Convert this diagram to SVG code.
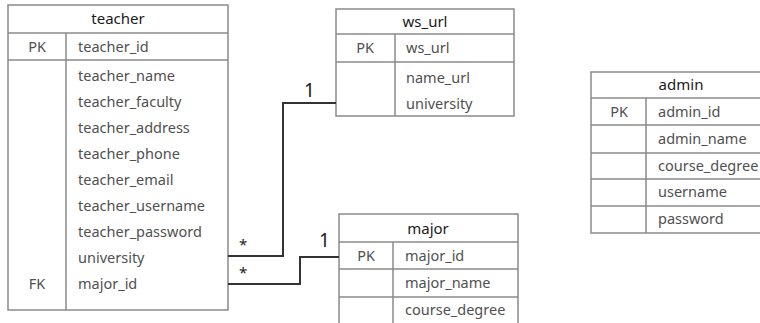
<svg xmlns="http://www.w3.org/2000/svg" width="760" height="323" viewBox="0 0 760 323">
  <style>
    .box { fill: #ffffff; stroke: #8a8a8a; stroke-width: 1.5; }
    .sep { stroke: #8a8a8a; stroke-width: 1.5; fill: none; }
    .title { font-family: "Noto Sans", "Open Sans", sans-serif; font-size: 15px; fill: #1a1a1a; text-anchor: middle; }
    .field { font-family: "Noto Sans", "Open Sans", sans-serif; font-size: 14.5px; fill: #505050; }
    .key { font-family: "Noto Sans", "Open Sans", sans-serif; font-size: 14.5px; fill: #505050; text-anchor: middle; }
    .link { stroke: #333333; stroke-width: 2; fill: none; }
    .mult { font-family: "Noto Sans", "DejaVu Sans", sans-serif; font-size: 19px; fill: #1a1a1a; }
    .star { font-family: "Noto Sans", "DejaVu Sans", sans-serif; font-size: 15px; fill: #1a1a1a; }
  </style>

  <!-- teacher table -->
  <g id="teacher">
    <rect class="box" x="8" y="5" width="220" height="305"/>
    <line class="sep" x1="8" y1="33" x2="228" y2="33"/>
    <line class="sep" x1="8" y1="60" x2="228" y2="60"/>
    <line class="sep" x1="66" y1="33" x2="66" y2="310"/>
    <text class="title" x="118" y="24">teacher</text>
    <text class="key" x="37" y="52">PK</text>
    <text class="field" x="78" y="52">teacher_id</text>
    <text class="field" x="78" y="81">teacher_name</text>
    <text class="field" x="78" y="107">teacher_faculty</text>
    <text class="field" x="78" y="133">teacher_address</text>
    <text class="field" x="78" y="159">teacher_phone</text>
    <text class="field" x="78" y="185">teacher_email</text>
    <text class="field" x="78" y="211">teacher_username</text>
    <text class="field" x="78" y="237">teacher_password</text>
    <text class="field" x="78" y="263">university</text>
    <text class="key" x="37" y="289">FK</text>
    <text class="field" x="78" y="289">major_id</text>
  </g>

  <!-- ws_url table -->
  <g id="ws_url">
    <rect class="box" x="336" y="9" width="178" height="107"/>
    <line class="sep" x1="336" y1="34" x2="514" y2="34"/>
    <line class="sep" x1="336" y1="62" x2="514" y2="62"/>
    <line class="sep" x1="395" y1="34" x2="395" y2="116"/>
    <text class="title" x="425" y="27">ws_url</text>
    <text class="key" x="365" y="53">PK</text>
    <text class="field" x="406" y="53">ws_url</text>
    <text class="field" x="406" y="83">name_url</text>
    <text class="field" x="406" y="109">university</text>
  </g>

  <!-- major table -->
  <g id="major">
    <rect class="box" x="339" y="214" width="179" height="112"/>
    <line class="sep" x1="339" y1="242" x2="518" y2="242"/>
    <line class="sep" x1="339" y1="269" x2="518" y2="269"/>
    <line class="sep" x1="339" y1="297" x2="518" y2="297"/>
    <line class="sep" x1="393" y1="242" x2="393" y2="326"/>
    <text class="title" x="428" y="234">major</text>
    <text class="key" x="366" y="261">PK</text>
    <text class="field" x="405" y="261">major_id</text>
    <text class="field" x="405" y="288">major_name</text>
    <text class="field" x="405" y="315">course_degree</text>
  </g>

  <!-- admin table (runs past the right edge) -->
  <g id="admin">
    <rect class="box" x="591" y="72" width="180" height="161"/>
    <line class="sep" x1="591" y1="98" x2="771" y2="98"/>
    <line class="sep" x1="591" y1="125" x2="771" y2="125"/>
    <line class="sep" x1="591" y1="153" x2="771" y2="153"/>
    <line class="sep" x1="591" y1="179" x2="771" y2="179"/>
    <line class="sep" x1="591" y1="206" x2="771" y2="206"/>
    <line class="sep" x1="646" y1="98" x2="646" y2="233"/>
    <text class="title" x="681" y="90">admin</text>
    <text class="key" x="619" y="117">PK</text>
    <text class="field" x="658" y="117">admin_id</text>
    <text class="field" x="658" y="144">admin_name</text>
    <text class="field" x="658" y="171">course_degree</text>
    <text class="field" x="658" y="197">username</text>
    <text class="field" x="658" y="224">password</text>
  </g>

  <!-- relationships -->
  <g id="connectors">
    <polyline class="link" points="228,256 283,256 283,103 336,103"/>
    <text class="star" x="239" y="250">*</text>
    <text class="mult" x="304" y="97">1</text>
    <polyline class="link" points="228,284 300,284 300,257 339,257"/>
    <text class="star" x="239" y="278">*</text>
    <text class="mult" x="319" y="247">1</text>
  </g>
</svg>
